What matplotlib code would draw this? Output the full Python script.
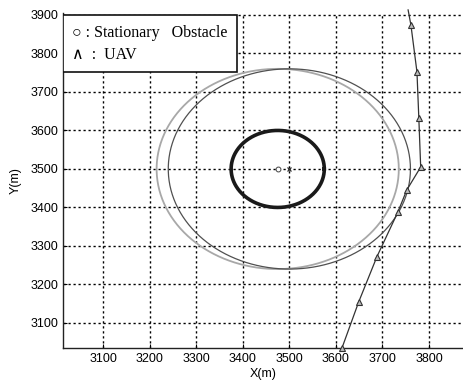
import numpy as np
import matplotlib
matplotlib.use("Agg")
import matplotlib.pyplot as plt
from matplotlib.patches import Rectangle

# Data
obstacle_center = (3475, 3500)
obstacle_radius = 100
gray_circle_center = (3475, 3500)
gray_circle_radius = 260
dark_circle_center = (3500, 3500)
dark_circle_radius = 260
uav_x = [3613, 3649, 3688, 3733, 3752, 3782, 3778, 3774, 3761, 3755]
uav_y = [3035, 3155, 3272, 3388, 3445, 3505, 3632, 3752, 3874, 3913]
uav_marker_x = uav_x[:-1]
uav_marker_y = uav_y[:-1]
xticks = [3100, 3200, 3300, 3400, 3500, 3600, 3700, 3800]
yticks = [3100, 3200, 3300, 3400, 3500, 3600, 3700, 3800, 3900]

plt.rcParams['font.family'] = ['Liberation Sans', 'DejaVu Sans']
fig = plt.figure(figsize=(4.64, 3.84), dpi=100)
ax = fig.add_axes([63/464, 36/384, 401/464, 335/384])
ax.set_xlim(3014, 3875)
ax.set_ylim(3035, 3905)

t = np.linspace(0, 2*np.pi, 400)
def circ(c, r):
    return c[0] + r*np.cos(t), c[1] + r*np.sin(t)

x, y = circ(gray_circle_center, gray_circle_radius)
ax.plot(x, y, color='#a8a8a8', lw=1.3, zorder=3)
x, y = circ(dark_circle_center, dark_circle_radius)
ax.plot(x, y, color='#505050', lw=0.9, zorder=3)
x, y = circ(obstacle_center, obstacle_radius)
ax.plot(x, y, color='#1a1a1a', lw=2.6, zorder=4)

ax.plot([obstacle_center[0]], [obstacle_center[1]], 'o', ms=3.5, mfc='white',
        mec='#444444', mew=0.7, zorder=5)
ax.plot([dark_circle_center[0]], [dark_circle_center[1]], 'x', ms=3, color='#333333',
        mew=0.9, zorder=5)

ax.plot(uav_x, uav_y, color='#333333', lw=0.9, zorder=4, clip_on=False)
ax.plot(uav_marker_x, uav_marker_y, '^', ms=4, mfc='#bbbbbb', mec='#333333', mew=0.8,
        zorder=5, clip_on=False)

ax.set_xticks(xticks)
ax.set_yticks(yticks)
ax.tick_params(direction='in', length=3, labelsize=9, colors='black')
ax.grid(True, color='black', linestyle=(0, (1.6, 2.0)), lw=1.0)
ax.spines['top'].set_visible(False)
ax.spines['right'].set_visible(False)
for s in ('left', 'bottom'):
    ax.spines[s].set_linewidth(1.0)
    ax.spines[s].set_color('#222222')

ax.set_xlabel('X(m)', fontsize=9, labelpad=2)
ax.set_ylabel('Y(m)', fontsize=9, labelpad=6)

# legend box
ax.add_patch(Rectangle((3014, 3752), 3388-3014, 3900-3752, fill=True, facecolor='white',
                       edgecolor='#111111', lw=1.2, zorder=6))
serif = ['Liberation Serif', 'DejaVu Serif']
ax.text(3033, 3852, '○ : Stationary   Obstacle', fontsize=11.5, family=serif,
        va='center', ha='left', zorder=7)
ax.text(3033, 3795, '∧  :  UAV', fontsize=11.5, family=serif,
        va='center', ha='left', zorder=7)

fig.savefig('out.png', dpi=100)
